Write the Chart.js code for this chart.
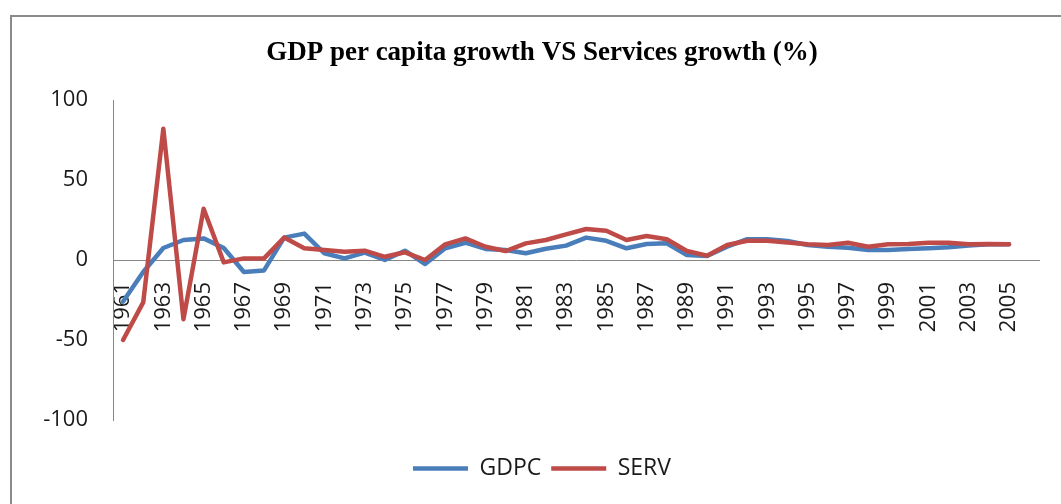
<!DOCTYPE html>
<html>
<head>
<meta charset="utf-8">
<script src="https://cdn.jsdelivr.net/npm/chart.js@4"></script>
<style>
  html, body { margin: 0; padding: 0; background: #fff; overflow: hidden; }
  #frame {
    position: absolute; left: 10px; top: 15px;
    width: 1066px; height: 500px;
    border-left: 2px solid #8a8a8a; border-top: 2px solid #8a8a8a;
  }
  #chart { display: block; }
</style>
</head>
<body>
<div id="frame"><canvas id="chart" width="1066" height="500"></canvas></div>
<script>
// Years on the category axis (2006 has no data, kept as an empty slot)
const years = [];
for (let y = 1961; y <= 2006; y++) years.push(String(y));

// GDP per capita growth (%)
const gdpc = [-26, -7.5, 7.5, 12.5, 13.5, 7.5, -7.5, -6.5, 14, 16.5,
  4.2, 1, 4.6, 0, 5.8, -2.5, 7.3, 10.8, 6.9, 6.3,
  4.2, 7, 9, 14, 12, 7.3, 10, 10.4, 3.1, 2.5,
  8.3, 13, 13, 11.9, 9.4, 8.3, 7.7, 6.3, 6.3, 6.9,
  7.3, 7.9, 9, 9.8, 9.8, null];

// Services growth (%)
const serv = [-50, -26.5, 82, -37, 32, -1.5, 1, 1, 14, 7.3,
  6.3, 5.2, 5.8, 2, 4.8, 0, 9.8, 13.5, 8.3, 5.6,
  10.4, 12.5, 16, 19.4, 18.3, 12.5, 15, 13, 5.6, 2.7,
  9.4, 12, 12, 11, 9.8, 9.4, 10.8, 8.3, 9.8, 10,
  10.8, 10.8, 9.8, 10, 9.8, null];

const BLUE = "#4a7ebb";
const RED = "#be4b48";
const AXIS = "#868686";

Chart.defaults.font.family = "'Open Sans', sans-serif";
Chart.defaults.color = "#1a1a1a";

// empty spacer axes, only used to reserve room around the plot
const spacer = size => ({
  display: true,
  grid: { display: false, drawTicks: false },
  border: { display: false },
  ticks: { display: false },
  afterFit: s => { if (s.isHorizontal()) s.height = size; else s.width = size; },
});

// SERV first so it is drawn on top; legend reversed to show GDPC first
new Chart(document.getElementById("chart"), {
  type: "line",
  data: {
    labels: years,
    datasets: [
      {
        label: "SERV", data: serv,
        borderColor: RED, backgroundColor: RED,
        borderWidth: 4.5, pointRadius: 0, pointStyle: "line",
        borderJoinStyle: "round", borderCapStyle: "round",
        tension: 0, spanGaps: false,
      },
      {
        label: "GDPC", data: gdpc,
        borderColor: BLUE, backgroundColor: BLUE,
        borderWidth: 4.5, pointRadius: 0, pointStyle: "line",
        borderJoinStyle: "round", borderCapStyle: "round",
        tension: 0, spanGaps: false,
      },
    ],
  },
  options: {
    responsive: false,
    animation: false,
    devicePixelRatio: 1,
    layout: { padding: { left: 0, right: 6, top: 0, bottom: 27 } },
    plugins: {
      tooltip: { enabled: false },
      title: {
        display: true,
        text: "GDP per capita growth VS Services growth (%)",
        color: "#000",
        font: { family: "'Liberation Serif', serif", size: 27, weight: "bold", lineHeight: 1.2 },
        padding: { top: 20, bottom: 30.6 },
      },
      legend: {
        position: "bottom",
        reverse: true,
        labels: {
          usePointStyle: true,
          pointStyleWidth: 55,
          padding: 10,
          font: { size: 23 },
          color: "#1a1a1a",
        },
      },
    },
    scales: {
      x: {
        type: "category",
        offset: true,
        position: { y: 0 },
        grid: { display: false, drawTicks: false },
        border: { display: true, color: AXIS, width: 1 },
        ticks: {
          autoSkip: false,
          minRotation: 90, maxRotation: 90,
          padding: 22,
          font: { size: 22 },
          callback: function (v, i) { return i % 2 === 0 ? this.getLabelForValue(v) : ""; },
        },
      },
      x2: Object.assign({ type: "category", position: "bottom" }, spacer(27)),
      y: {
        min: -100, max: 100,
        grid: { display: false, drawTicks: false },
        border: { display: true, color: AXIS, width: 1 },
        ticks: { stepSize: 50, padding: 25, font: { size: 22 } },
        afterFit: s => { s.width = 101; },
      },
      y2: Object.assign({ type: "linear", position: "right" }, spacer(26)),
    },
  },
});
</script>
</body>
</html>
